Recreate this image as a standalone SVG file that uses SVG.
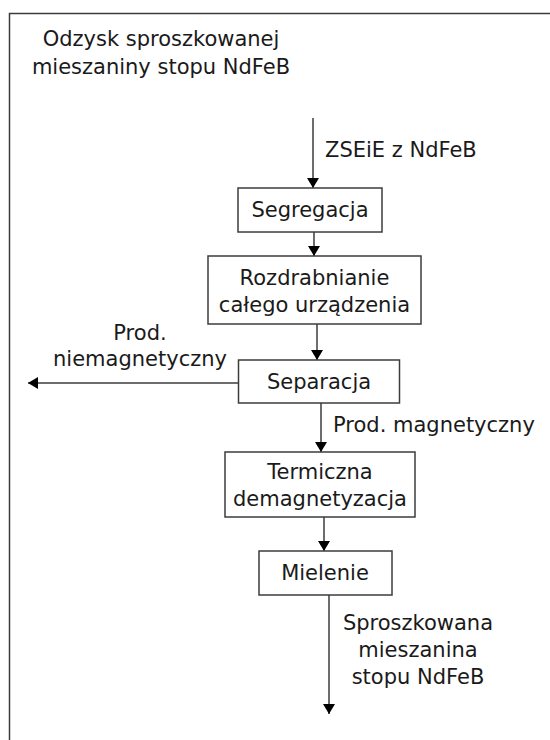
<svg xmlns="http://www.w3.org/2000/svg" width="550" height="740" viewBox="0 0 550 740">
  <defs>
    <marker id="ah" viewBox="0 0 10 12" refX="10" refY="6" markerWidth="10" markerHeight="12" markerUnits="userSpaceOnUse" orient="auto">
      <path d="M0,0 L10,6 L0,12 Z" fill="#000"/>
    </marker>
    <style>
      .t { font-family: "DejaVu Sans", Verdana, sans-serif; font-size: 21px; fill: #1a1a1a; }
      .m { text-anchor: middle; }
      .box { fill: #fff; stroke: #3c3c3c; stroke-width: 1.5; }
      .ln { stroke: #3c3c3c; stroke-width: 1.5; fill: none; marker-end: url(#ah); }
    </style>
  </defs>
  <rect x="0" y="0" width="550" height="740" fill="#fff"/>
  <rect id="frame" x="9.5" y="13.5" width="600" height="800" fill="none" stroke="#3c3c3c" stroke-width="1.5"/>
  <g id="title">
    <text class="t m" x="161" y="46">Odzysk sproszkowanej</text>
    <text class="t m" x="161" y="74">mieszaniny stopu NdFeB</text>
  </g>
  <g id="connectors">
    <line class="ln" x1="313" y1="118" x2="313" y2="188"/>
    <line class="ln" x1="314" y1="232" x2="314" y2="256"/>
    <line class="ln" x1="317" y1="324" x2="317" y2="360"/>
    <line class="ln" x1="238.5" y1="383" x2="28" y2="383"/>
    <line class="ln" x1="321" y1="403" x2="321" y2="452"/>
    <line class="ln" x1="324" y1="517" x2="324" y2="551"/>
    <line class="ln" x1="329" y1="595" x2="329" y2="714"/>
    <text class="t" x="325" y="157">ZSEiE z NdFeB</text>
    <text class="t m" x="140" y="340">Prod.</text>
    <text class="t m" x="140" y="366">niemagnetyczny</text>
    <text class="t" x="333" y="432">Prod. magnetyczny</text>
    <text class="t m" x="418" y="630">Sproszkowana</text>
    <text class="t m" x="418" y="657">mieszanina</text>
    <text class="t m" x="418" y="684">stopu NdFeB</text>
  </g>
  <g id="segregacja">
    <rect class="box" x="238" y="188" width="144" height="44"/>
    <text class="t m" x="310" y="217">Segregacja</text>
  </g>
  <g id="rozdrabnianie">
    <rect class="box" x="208" y="256" width="213" height="68"/>
    <text class="t m" x="314.5" y="285">Rozdrabnianie</text>
    <text class="t m" x="314.5" y="312">całego urządzenia</text>
  </g>
  <g id="separacja">
    <rect class="box" x="238.5" y="360" width="161" height="43"/>
    <text class="t m" x="319" y="389">Separacja</text>
  </g>
  <g id="termiczna">
    <rect class="box" x="225" y="452" width="190" height="65"/>
    <text class="t m" x="320" y="479">Termiczna</text>
    <text class="t m" x="320" y="506">demagnetyzacja</text>
  </g>
  <g id="mielenie">
    <rect class="box" x="259" y="551" width="133" height="44"/>
    <text class="t m" x="325" y="580">Mielenie</text>
  </g>
</svg>
